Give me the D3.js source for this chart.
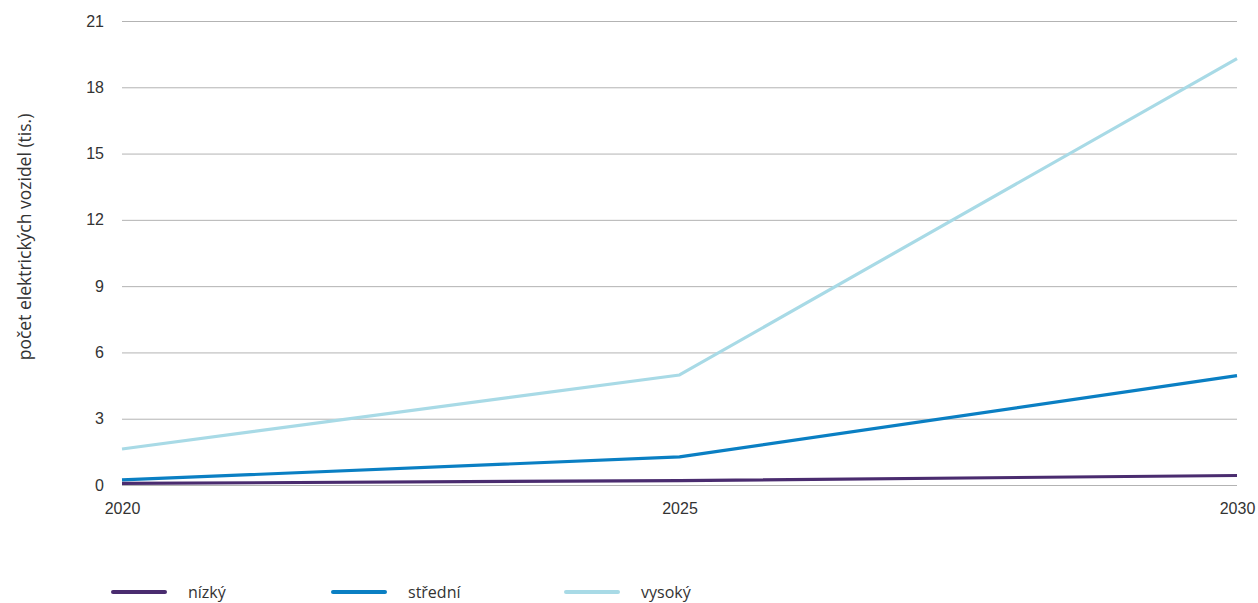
<!DOCTYPE html>
<html>
<head>
<meta charset="utf-8">
<script src="https://cdn.jsdelivr.net/npm/d3@7"></script>
<style>
  html, body { margin: 0; padding: 0; background: #fff; }
  svg { display: block; font-family: "Open Sans", "Noto Sans", sans-serif; }
</style>
</head>
<body>
<svg id="chart" width="1258" height="603"></svg>
<script>
// Počet elektrických vozidel (tis.) podle scénáře
const years = [2020, 2025, 2030];
const nizky = [0.07, 0.2, 0.43];
const stredni = [0.23, 1.27, 4.95];
const vysoky = [1.63, 4.98, 19.3];
const yTicks = [0, 3, 6, 9, 12, 15, 18, 21];
const seriesNames = ["nízký", "střední", "vysoký"];
const seriesColors = ["#4a2c6f", "#0a7fc3", "#a8dae6"];
const yTitle = "počet elektrických vozidel (tis.)";

const series = [nizky, stredni, vysoky].map((vals, i) => ({
  name: seriesNames[i],
  color: seriesColors[i],
  values: years.map((y, j) => ({ year: y, value: vals[j] }))
}));

const svg = d3.select("#chart");
const margin = { left: 122, right: 21, top: 21, bottom: 118 };
const W = 1258, H = 603;

const x = d3.scaleLinear().domain([2020, 2030]).range([margin.left, W - margin.right]);
const y = d3.scaleLinear().domain([0, 21]).range([H - margin.bottom, margin.top]);

// Horizontal gridlines with value labels
const yAxis = d3.axisLeft(y).tickValues(yTicks).tickSize(-(W - margin.left - margin.right)).tickPadding(18);
const gy = svg.append("g").attr("transform", `translate(${margin.left},0)`).call(yAxis);
gy.select(".domain").remove();
gy.selectAll(".tick line").attr("stroke", "#b3b3b3").attr("stroke-width", 1);
gy.selectAll(".tick text").attr("fill", "#333").attr("font-size", 16);

// Year labels
const xAxis = d3.axisBottom(x).tickValues(years).tickFormat(d3.format("d")).tickSize(0).tickPadding(18);
const gx = svg.append("g").attr("transform", `translate(0,${y(0)})`).call(xAxis);
gx.select(".domain").remove();
gx.selectAll(".tick text").attr("fill", "#333").attr("font-size", 16);

// Y axis title
svg.append("text")
  .attr("transform", `translate(31,237) rotate(-90)`)
  .attr("text-anchor", "middle")
  .attr("font-size", 17.5)
  .attr("fill", "#333")
  .text(yTitle);

// Lines (drawn light to dark so the low scenario sits on top)
const line = d3.line().x(d => x(d.year)).y(d => y(d.value));
svg.append("g").selectAll("path")
  .data(series.slice().reverse())
  .join("path")
  .attr("d", d => line(d.values))
  .attr("fill", "none")
  .attr("stroke", d => d.color)
  .attr("stroke-width", 3.2)
  .attr("stroke-linejoin", "round");

// Legend
const legendX = [113, 333, 566];
const lg = svg.append("g").selectAll("g")
  .data(series)
  .join("g")
  .attr("transform", (d, i) => `translate(${legendX[i]},592)`);
lg.append("line")
  .attr("x1", 0).attr("x2", 52)
  .attr("stroke", d => d.color)
  .attr("stroke-width", 4)
  .attr("stroke-linecap", "round");
lg.append("text")
  .attr("x", 75).attr("y", 6)
  .attr("font-size", 16)
  .attr("fill", "#333")
  .text(d => d.name);
</script>
</body>
</html>
